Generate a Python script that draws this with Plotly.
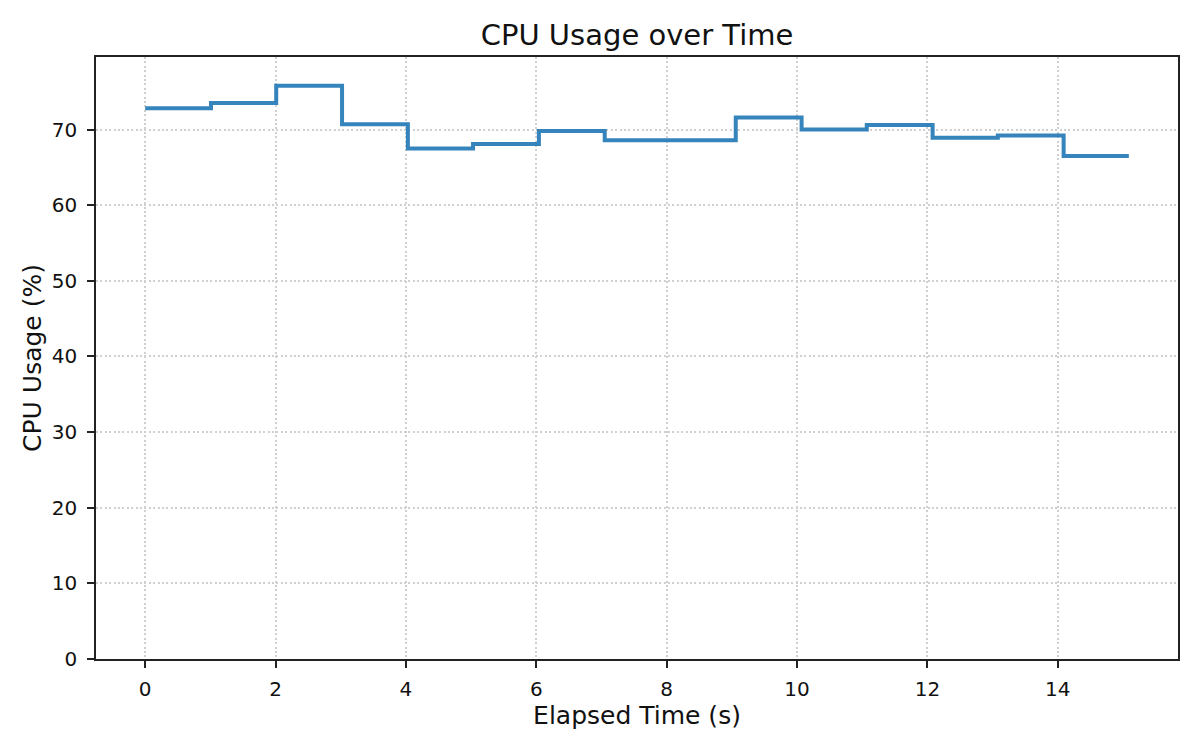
"""CPU usage over time as a step line"""

import plotly.graph_objects as go

# elapsed seconds of each sample
ELAPSED_S = [0.0, 1.01, 2.01, 3.02, 4.03, 5.03, 6.04, 7.05, 8.05,
             9.06, 10.07, 11.07, 12.08, 13.08, 14.09, 15.09]

# cpu usage (%) for each sample
CPU_PCT = [72.8, 73.5, 75.8, 70.7, 67.5, 68.1, 69.8, 68.6, 68.6,
           71.6, 70.0, 70.6, 68.9, 69.2, 66.5, 66.5]

X_TICKS = [0, 2, 4, 6, 8, 10, 12, 14]
Y_TICKS = [0, 10, 20, 30, 40, 50, 60, 70]

FONT = "DejaVu Sans"


def plot_graph():
    """Draw the step chart and save it"""

    fig = go.Figure()

    fig.add_trace(go.Scatter(
        x=ELAPSED_S,
        y=CPU_PCT,
        mode="lines",
        line=dict(shape="hv", color="rgba(31,119,180,0.9)", width=4),
        showlegend=False,
    ))

    # matplotlib style margins: 5% on x, 0 to max*1.05 on y
    x_span = max(ELAPSED_S) - min(ELAPSED_S)
    x_range = [min(ELAPSED_S) - 0.05 * x_span, max(ELAPSED_S) + 0.05 * x_span]
    y_range = [0, max(CPU_PCT) * 1.05]

    axis_style = dict(
        showline=True, linecolor="#222222", linewidth=1.7, mirror=True,
        ticks="outside", ticklen=7, tickwidth=1.7, tickcolor="#222222",
        showgrid=True, gridcolor="#d0d0d0", gridwidth=1.7, griddash="2px,2.4px",
        zeroline=False,
        tickfont=dict(family=FONT, size=20, color="#111111"),
        title_font=dict(family=FONT, size=25, color="#111111"),
    )

    fig.update_xaxes(range=x_range, tickvals=X_TICKS, title="Elapsed Time (s)",
                     title_standoff=5, ticklabelstandoff=4, **axis_style)
    fig.update_yaxes(range=y_range, tickvals=Y_TICKS, title="CPU Usage (%)",
                     title_standoff=3, ticklabelstandoff=6, **axis_style)

    # page body has an 8px margin, so the figure is 8px smaller on each side
    fig.update_layout(
        width=1192, height=742,
        margin=dict(l=88, r=22, t=49, b=91),
        plot_bgcolor="white", paper_bgcolor="white",
        title=dict(text="CPU Usage over Time", x=0.5, xref="paper", xanchor="center",
                   y=1 - 27 / 742, yanchor="middle", yref="container",
                   font=dict(family=FONT, size=29, color="#111111")),
    )

    fig.write_html("out.html")


plot_graph()
